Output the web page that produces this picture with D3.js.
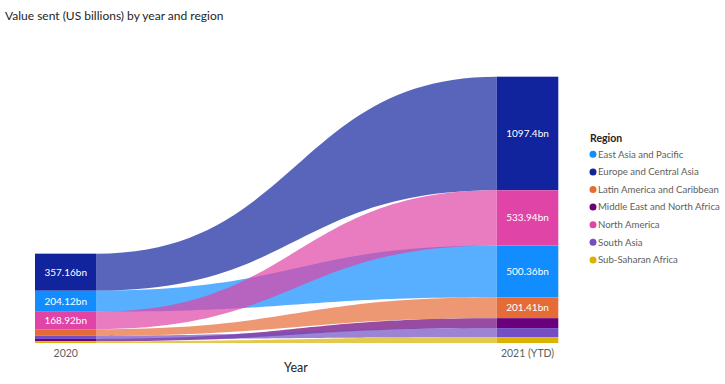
<!DOCTYPE html>
<html lang="en">
<head>
    <meta charset="UTF-8">
    <title>Value sent by year and region</title>
    <script src="https://d3js.org/d3.v7.min.js"></script>
    <style>
        body { margin: 0; background: #fff; }
        text { font-family: "Segoe UI", Lato, sans-serif; }
    </style>
</head>
<body>
    <div id="chart"></div>
</body>
</html>

<script>
var years = ["2020", "2021 (YTD)"];
var regions = ["East Asia and Pacific", "Europe and Central Asia", "Latin America and Caribbean",
    "Middle East and North Africa", "North America", "South Asia", "Sub-Saharan Africa"];
var colors = ["#118DFF", "#12239E", "#E66C37", "#6B007B", "#E044A7", "#744EC2", "#D9B300"];
// values in US billions, one per region
var values2020 = [204.12, 357.16, 62, 22, 168.92, 32, 17];
var values2021 = [500.36, 1097.4, 201.41, 96, 533.94, 88, 56];
var labelMin = 150;

var width = 725, height = 384;

var svg = d3.select("#chart")
    .append("svg")
        .attr("width", width)
        .attr("height", height);

// title
svg.append("text")
    .attr("x", 5)
    .attr("y", 20)
    .attr("font-size", 12)
    .attr("fill", "#252423")
    .text("Value sent (US billions) by year and region");

var x = d3.scaleBand()
    .domain(years)
    .range([35, 558.3])
    .paddingInner(0.8668)
    .paddingOuter(0);

var y = d3.scaleLinear()
    .domain([0, 2600])
    .range([343, 73.9]);

// stack each year: largest on top
function stackYear(vals) {
    var idx = d3.range(vals.length).sort(function(a, b) { return vals[a] - vals[b]; });
    var pos = {}, acc = 0;
    idx.forEach(function(i) {
        pos[i] = {y0: acc, y1: acc + vals[i]};
        acc += vals[i];
    });
    return pos;
}
var stacks = [stackYear(values2020), stackYear(values2021)];
var allValues = [values2020, values2021];

// ribbons
var xa = x(years[0]) + x.bandwidth(), xb = x(years[1]), xm = (xa + xb) / 2;
var ribbons = svg.append("g");
regions.forEach(function(r, i) {
    var a = stacks[0][i], b = stacks[1][i];
    var p = d3.path();
    p.moveTo(xa, y(a.y1));
    p.bezierCurveTo(xm, y(a.y1), xm, y(b.y1), xb, y(b.y1));
    p.lineTo(xb, y(b.y0));
    p.bezierCurveTo(xm, y(b.y0), xm, y(a.y0), xa, y(a.y0));
    p.closePath();
    ribbons.append("path")
        .attr("d", p.toString())
        .attr("fill", colors[i])
        .attr("fill-opacity", 0.7);
});

// bars
years.forEach(function(yr, k) {
    var g = svg.append("g");
    regions.forEach(function(r, i) {
        var s = stacks[k][i];
        g.append("rect")
            .attr("x", x(yr))
            .attr("y", y(s.y1))
            .attr("width", x.bandwidth())
            .attr("height", y(s.y0) - y(s.y1))
            .attr("fill", colors[i]);
        if (allValues[k][i] >= labelMin) {
            g.append("text")
                .attr("x", x(yr) + x.bandwidth() / 2)
                .attr("y", (y(s.y0) + y(s.y1)) / 2)
                .attr("dy", "0.35em")
                .attr("text-anchor", "middle")
                .attr("font-size", 10)
                .attr("fill", "#fff")
                .text(allValues[k][i] + "bn");
        }
    });
});

// x axis labels
svg.append("g")
    .selectAll("text")
    .data(years)
    .enter()
    .append("text")
    .attr("x", function(d) { return x(d) + x.bandwidth() / 2; })
    .attr("y", 357)
    .attr("text-anchor", "middle")
    .attr("font-size", 10.5)
    .attr("fill", "#605E5C")
    .text(function(d) { return d; });

svg.append("text")
    .attr("x", 296)
    .attr("y", 372)
    .attr("text-anchor", "middle")
    .attr("font-size", 12.5)
    .attr("fill", "#252423")
    .text("Year");

// legend
var legend = svg.append("g").attr("transform", "translate(590,0)");
legend.append("text")
    .attr("x", 0)
    .attr("y", 142)
    .attr("font-size", 10.5)
    .attr("font-weight", "bold")
    .attr("fill", "#252423")
    .text("Region");

var item = legend.selectAll(".item")
    .data(regions)
    .enter()
    .append("g")
    .attr("transform", function(d, i) { return "translate(0," + (154.3 + i * 17.6) + ")"; });
item.append("circle")
    .attr("cx", 3)
    .attr("cy", 0)
    .attr("r", 3.5)
    .attr("fill", function(d, i) { return colors[i]; });
item.append("text")
    .attr("x", 8)
    .attr("y", 0)
    .attr("dy", "0.35em")
    .attr("font-size", 9.6)
    .attr("fill", "#605E5C")
    .text(function(d) { return d; });
</script>
